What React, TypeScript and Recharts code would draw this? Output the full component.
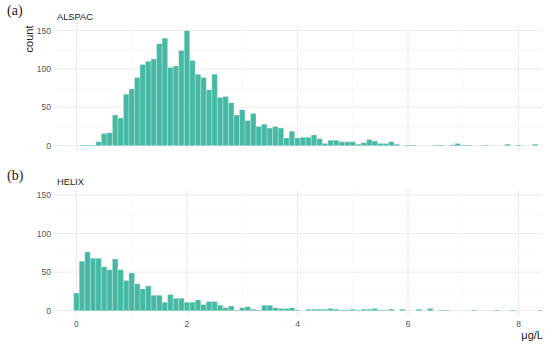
import { BarChart, Bar, XAxis, YAxis, CartesianGrid } from "recharts";

// histogram bin centres (µg/L), binwidth 0.1
const BINS = [
  0, 0.1, 0.2, 0.3, 0.4, 0.5, 0.6, 0.7, 0.8, 0.9,
  1, 1.1, 1.2, 1.3, 1.4, 1.5, 1.6, 1.7, 1.8, 1.9,
  2, 2.1, 2.2, 2.3, 2.4, 2.5, 2.6, 2.7, 2.8, 2.9,
  3, 3.1, 3.2, 3.3, 3.4, 3.5, 3.6, 3.7, 3.8, 3.9,
  4, 4.1, 4.2, 4.3, 4.4, 4.5, 4.6, 4.7, 4.8, 4.9,
  5, 5.1, 5.2, 5.3, 5.4, 5.5, 5.6, 5.7, 5.8, 5.9,
  6, 6.1, 6.2, 6.3, 6.4, 6.5, 6.6, 6.7, 6.8, 6.9,
  7, 7.1, 7.2, 7.3, 7.4, 7.5, 7.6, 7.7, 7.8, 7.9,
  8, 8.1, 8.2, 8.3, 8.4,
];

const ALSPAC_COUNTS = [
  0, 1, 1, 1, 5, 16, 17, 40, 36, 67,
  74, 89, 106, 110, 113, 133, 140, 102, 104, 124,
  150, 111, 93, 89, 73, 93, 63, 64, 56, 40,
  47, 33, 42, 25, 28, 23, 25, 23, 10, 19,
  10, 11, 11, 14, 9, 3, 7, 7, 5, 5,
  5, 2, 4, 8, 6, 3, 3, 5, 2, 0,
  1, 1, 0, 0, 0, 1, 1, 0, 1, 3,
  1, 1, 0, 0, 1, 0, 0, 0, 2, 0,
  1, 0, 0, 2, 0,
];

const HELIX_COUNTS = [
  23, 64, 76, 68, 68, 57, 53, 67, 53, 39,
  49, 35, 28, 32, 20, 20, 11, 21, 16, 16,
  11, 11, 14, 8, 12, 12, 7, 4, 6, 1,
  4, 5, 2, 1, 7, 7, 4, 3, 3, 4,
  1, 0, 2, 2, 2, 2, 3, 2, 1, 1,
  2, 1, 2, 2, 3, 1, 1, 2, 0, 2,
  0, 0, 2, 0, 3, 0, 1, 1, 0, 0,
  0, 0, 1, 0, 0, 0, 1, 0, 0, 1,
  0, 0, 0, 0, 1,
];

const X_TICKS = [0, 2, 4, 6, 8];
const X_MINOR = [1, 3, 5, 7];
const Y_TICKS = [0, 50, 100, 150];
const Y_MINOR = [25, 75, 125];

const X_DOMAIN = [-0.425, 8.425];
const Y_DOMAIN = [-7.5, 157.5];
const FILL = "#46b9a4";
const FONT = "'Liberation Sans', Arial, sans-serif";

const alspac = BINS.map((x, i) => ({ x, count: ALSPAC_COUNTS[i] }));
const helix = BINS.map((x, i) => ({ x, count: HELIX_COUNTS[i] }));

function Panel({ data, top, height, margin, showX }: any) {
  return (
    <div style={{ position: "absolute", left: 0, top }}>
      <BarChart width={550} height={height} data={data} margin={margin} barCategoryGap={0}>
        <CartesianGrid stroke="#f4f4f4" strokeWidth={0.6} horizontalValues={Y_MINOR} verticalValues={X_MINOR} />
        <CartesianGrid stroke="#e9e9e9" strokeWidth={0.9} horizontalValues={Y_TICKS} verticalValues={X_TICKS} />
        <XAxis
          type="number"
          dataKey="x"
          domain={X_DOMAIN}
          ticks={X_TICKS}
          allowDataOverflow
          hide={!showX}
          height={20}
          axisLine={false}
          tickLine={false}
          tickSize={0}
          tickMargin={4}
          tick={{ fontSize: 8.5, fill: "#555", fontFamily: FONT }}
        />
        <YAxis
          type="number"
          domain={Y_DOMAIN}
          ticks={Y_TICKS}
          allowDataOverflow
          width={53}
          axisLine={false}
          tickLine={false}
          tickSize={0}
          tickMargin={2}
          tick={{ fontSize: 8.5, fill: "#555", fontFamily: FONT }}
        />
        <Bar dataKey="count" fill={FILL} stroke="#ffffff" strokeOpacity={0.5} strokeWidth={0.5} barSize={5.5} isAnimationActive={false} />
      </BarChart>
    </div>
  );
}

const label = (extra: any) => ({ position: "absolute" as const, fontFamily: FONT, color: "#1a1a1a", lineHeight: 1, ...extra });

export default function App() {
  return (
    <div style={{ position: "absolute", left: 0, top: 0, width: 550, height: 344, background: "#fff", overflow: "hidden" }}>
      <Panel data={alspac} top={0} height={160} margin={{ top: 24.9, right: 8, bottom: 8.55, left: 0 }} showX={false} />
      <Panel data={helix} top={160} height={184} margin={{ top: 29.2, right: 8, bottom: 7.5, left: 0 }} showX />
      <div style={label({ left: 7, top: 4, fontSize: 14, fontFamily: "'Liberation Serif', serif" })}>(a)</div>
      <div style={label({ left: 7, top: 169, fontSize: 14, fontFamily: "'Liberation Serif', serif" })}>(b)</div>
      <div style={label({ left: 57, top: 13, fontSize: 9.3 })}>ALSPAC</div>
      <div style={label({ left: 57, top: 178, fontSize: 9.3 })}>HELIX</div>
      <div style={label({ left: 29, top: 38.5, fontSize: 11, transform: "translate(-50%, -50%) rotate(-90deg)" })}>count</div>
      <div style={label({ right: 7, top: 330, fontSize: 11 })}>μg/L</div>
    </div>
  );
}
